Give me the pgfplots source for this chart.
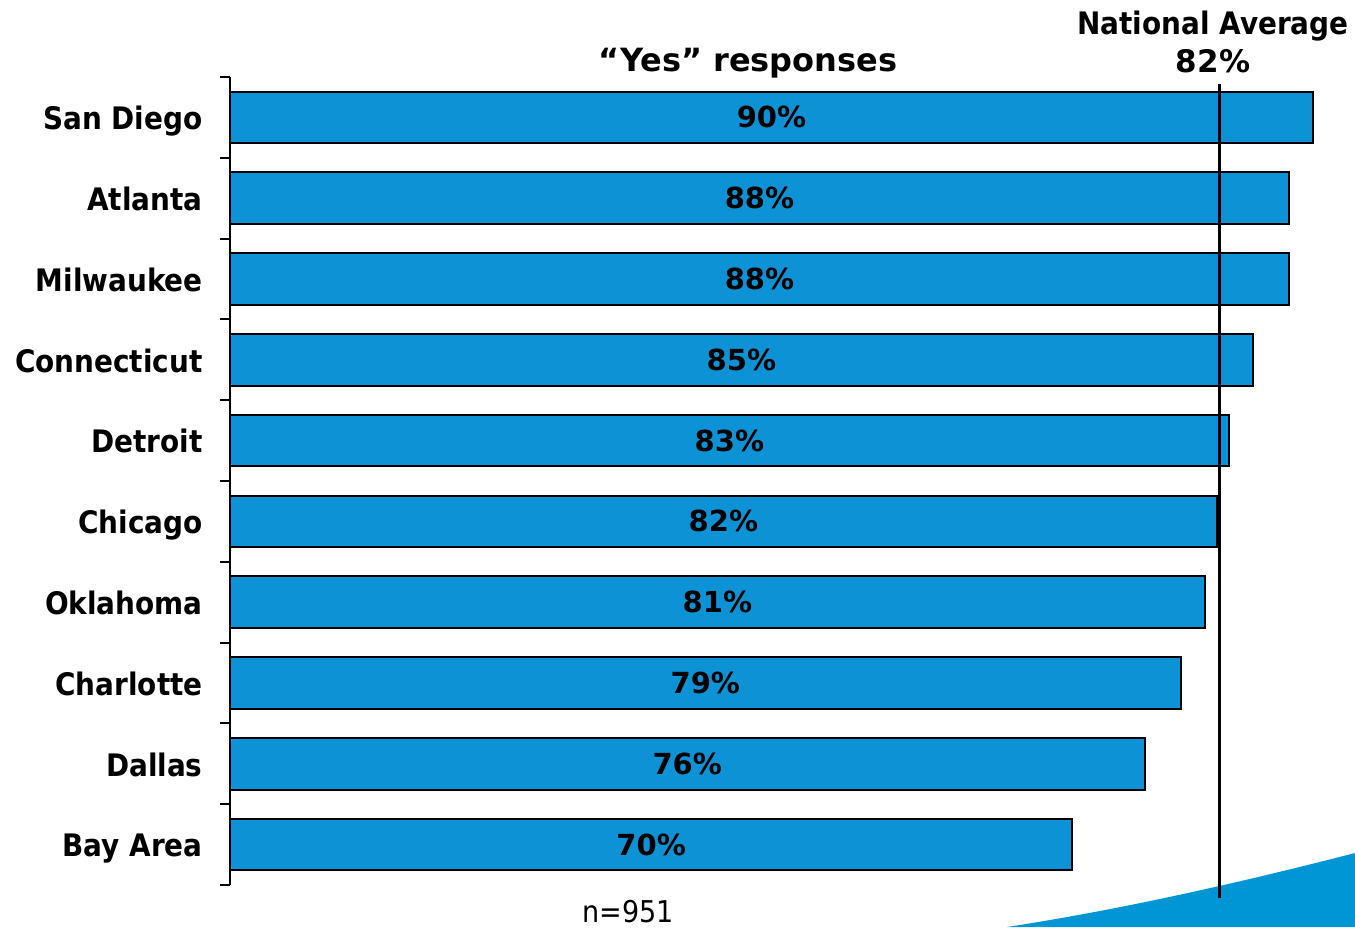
\documentclass[border=0pt]{standalone}
\usepackage{pgfplots}
\pgfplotsset{compat=1.18}
\usepackage{pgfplotstable}
\usepackage{fontspec}
\setmainfont{DejaVu Sans Condensed}
\newfontfamily\widefont{DejaVu Sans}
\definecolor{barblue}{RGB}{13,147,213}
\definecolor{swoosh}{RGB}{0,150,214}
\pgfplotstableread{
pos v
9 90
8 88
7 88
6 85
5 83
4 82
3 81
2 79
1 76
0 70
}\datatable
\begin{document}
\begin{tikzpicture}
\begin{axis}[
  scale only axis, width=562.5pt, height=404pt,
  xmin=0, xmax=93.49, ymin=-0.5, ymax=9.5,
  clip=false,
  axis x line=none,
  axis y line=left,
  axis line style={-, line width=1pt, black},
  xtick=\empty,
  ytick={0,...,9},
  yticklabels={Bay Area,Dallas,Charlotte,Oklahoma,Chicago,Detroit,Connecticut,Milwaukee,Atlanta,San Diego},
  major tick length=0pt,
  minor ytick={-0.5,0.5,...,9.5},
  minor tick length=5pt,
  tick align=outside,
  minor tick style={line width=1pt, black},
  yticklabel style={font=\fontsize{15.5}{18}\selectfont\bfseries, anchor=base east, inner sep=0pt, xshift=-13.5pt, yshift=-6.1pt},
  bar width=0.64,
]
\fill[swoosh] (rel axis cs:0.6907,-0.05198) .. controls (rel axis cs:0.8,-0.0285) and (rel axis cs:0.9067,0.0062) .. (rel axis cs:1.0,0.0396) -- (rel axis cs:1.0,-0.05198) -- cycle;
\addplot[xbar, fill=barblue, draw=black, line width=1pt] table[x=v, y=pos] {\datatable};
\addplot[draw=none, forget plot, nodes near coords={\pgfplotspointmeta\%}, point meta=explicit symbolic,
  every node near coord/.style={anchor=center, font=\widefont\fontsize{14.5}{17}\selectfont\bfseries, text=black}]
  table[x expr=\thisrow{v}/2, y=pos, meta=v] {\datatable};
\draw[line width=1.5pt, black] (axis cs:82.2,9.413) -- (axis cs:82.2,-0.661);
\node[font=\widefont\fontsize{16}{19}\selectfont\bfseries, anchor=base] at (rel axis cs:0.4604,1.0074) {“Yes” responses};
\node[font=\fontsize{15.5}{18}\selectfont\bfseries, anchor=base] at (rel axis cs:0.8738,1.0520) {National Average};
\node[font=\widefont\fontsize{15.5}{18}\selectfont\bfseries, anchor=base] at (rel axis cs:0.8738,1.005) {82\%};
\node[font=\fontsize{15}{18}\selectfont, anchor=base] at (rel axis cs:0.3538,-0.0460) {n=951};
\coordinate (bbsw) at (rel axis cs:-0.20444,-0.05198);
\coordinate (bbne) at (rel axis cs:1.0,1.0953);
\end{axis}
\pgfresetboundingbox
\path[use as bounding box] (bbsw) rectangle (bbne);
\end{tikzpicture}
\end{document}
